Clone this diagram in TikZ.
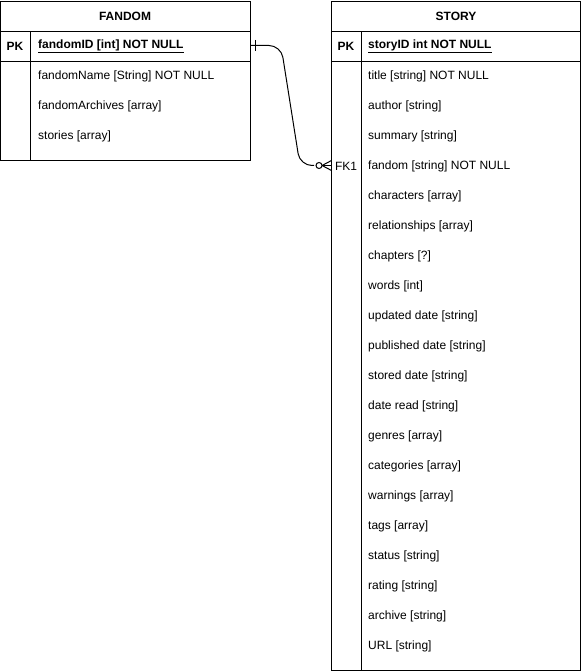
\documentclass[tikz,border=0pt]{standalone}
\usepackage{fontspec}
\setmainfont{Liberation Sans}
\begin{document}
\begin{tikzpicture}[x=1pt,y=-1pt,
  box/.style={draw=black,line width=1pt},
  hdr/.style={font=\fontsize{12}{14}\selectfont\bfseries,anchor=center,inner sep=0},
  fld/.style={font=\fontsize{12}{14}\selectfont,anchor=west,inner sep=0},
  key/.style={font=\fontsize{12}{14}\selectfont\bfseries,anchor=center,inner sep=0},
  conn/.style={line width=1pt,rounded corners=12pt}]
\useasboundingbox (0,0) rectangle (581,671);
% FANDOM
\draw[box] (0.5,1.5) rectangle (250.5,160.5);
\draw[box] (0.5,31.5) -- (250.5,31.5);
\draw[box] (0.5,61.5) -- (250.5,61.5);
\draw[box] (30.5,31.5) -- (30.5,160.5);
\node[hdr] (fandomhdr) at (125,16) {FANDOM};
\node[key] (fpk) at (15,46) {PK};
\node[fld] (fid) at (38,46) {\underline{\textbf{fandomID [int] NOT NULL}}};
\node[fld] (fname) at (38,76) {fandomName [String] NOT NULL};
\node[fld] (farch) at (38,106) {fandomArchives [array]};
\node[fld] (fstories) at (38,136) {stories [array]};
\coordinate (fe) at (250.5,45.5);
% STORY
\draw[box] (331.5,1.5) rectangle (580.5,670.5);
\draw[box] (331.5,31.5) -- (580.5,31.5);
\draw[box] (331.5,61.5) -- (580.5,61.5);
\draw[box] (361.5,31.5) -- (361.5,670.5);
\node[hdr] (storyhdr) at (456,16) {STORY};
\node[key] (spk) at (346,46) {PK};
\node[fld] (sid) at (368,46) {\underline{\textbf{storyID int NOT NULL}}};
\node[font=\fontsize{12}{14}\selectfont,anchor=center,inner sep=0] (fk1) at (346,166) {FK1};
\foreach \t [count=\i from 0] in {title [string] NOT NULL,author [string],summary [string],fandom [string] NOT NULL,characters [array],relationships [array],chapters [?],words [int],updated date [string],published date [string],stored date [string],date read [string],genres [array],categories [array],warnings [array],tags [array],status [string],rating [string],archive [string],URL [string]}
  \node[fld] (s\i) at (368,76+30*\i) {\t};
\coordinate (se) at (331.5,165.5);
% connector
\draw[conn] (fe) -- (281,45.5) -- (300,165.5) -- (314,165.5);
\draw[line width=1pt] (255.5,40) -- (255.5,51);
\draw[line width=1pt] (319,165.5) circle (3);
\draw[line width=1pt] (322,165.5) -- (se);
\draw[line width=1pt] (322,165.5) -- (331.5,160.5);
\draw[line width=1pt] (322,165.5) -- (331.5,170.5);
\end{tikzpicture}
\end{document}
